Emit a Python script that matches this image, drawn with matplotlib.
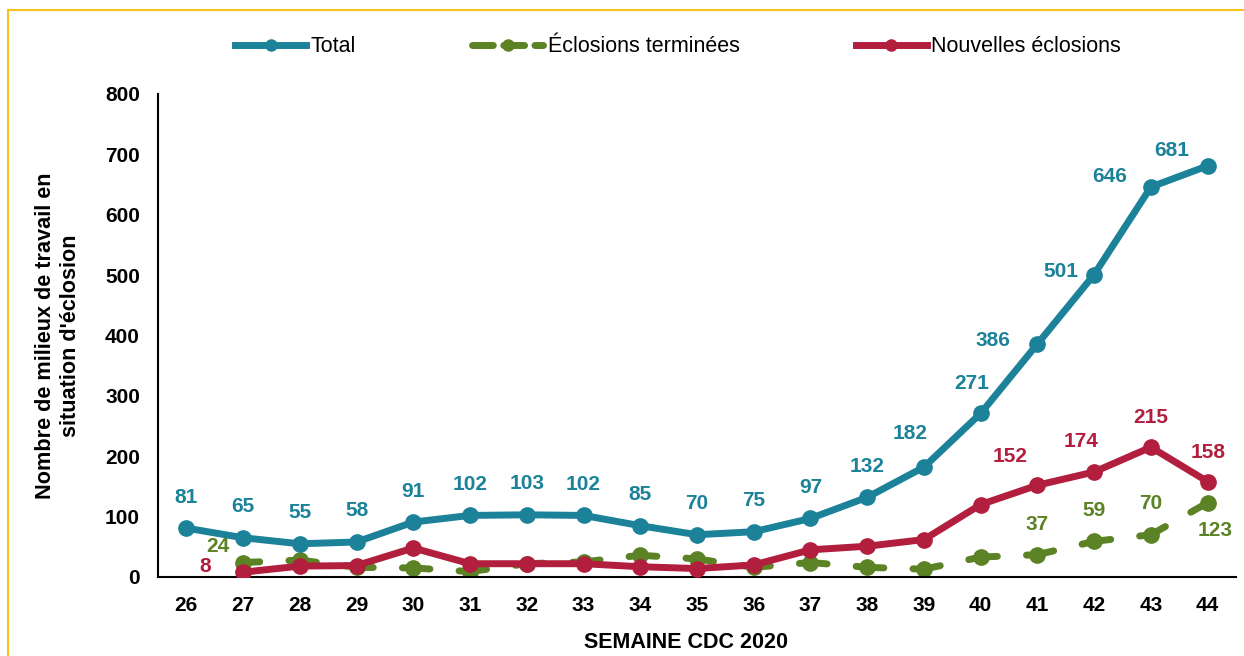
"""
Eclosions en milieux de travail par semaine CDC 2020
"""

import numpy as np
import matplotlib.pyplot as plt
from matplotlib.lines import Line2D
from matplotlib.patches import Rectangle

# data
weeks = ['26', '27', '28', '29', '30', '31', '32', '33', '34', '35',
         '36', '37', '38', '39', '40', '41', '42', '43', '44']
total = [81, 65, 55, 58, 91, 102, 103, 102, 85, 70, 75, 97, 132, 182, 271, 386, 501, 646, 681]
# terminated and new start at week 27
terminees = [24, 28, 16, 15, 9, 22, 25, 36, 30, 16, 24, 16, 13, 33, 37, 59, 70, 123]
nouvelles = [8, 18, 19, 48, 22, 22, 22, 17, 14, 20, 45, 51, 62, 120, 152, 174, 215, 158]

# which points get a label (index into weeks) and where (pixel offsets)
total_lbl_off = {13: (-14, 34), 14: (-9, 30), 15: (-44, 3), 16: (-33, 3),
                 17: (-41, 10), 18: (-36, 15)}
term_lbl = {1: (-25, 16), 15: (0, 30), 16: (0, 31), 17: (0, 31), 18: (7, -28)}
nouv_lbl = {1: (-38, 6), 15: (-27, 29), 16: (-13, 30), 17: (0, 30), 18: (0, 29)}

c_blue = '#1c8299'
c_green = '#5b8224'
c_red = '#b21e3d'

plt.rcParams['font.family'] = ['Liberation Sans', 'DejaVu Sans']

fig = plt.figure(figsize=(12.44, 6.56), dpi=100)
ax = fig.add_axes([158/1244, 1-577/656, (1236-158)/1244, (577-94)/656])

x = np.arange(len(weeks))
x2 = x[1:]

lw = 5
ms = 11

ax.plot(x, total, color=c_blue, lw=lw, marker='o', ms=ms, zorder=3,
        solid_capstyle='round', solid_joinstyle='round')
# dashed line restarts at each segment, dashes sit on the markers
for i in range(len(x2) - 1):
    ax.plot(x2[i:i+2], terminees[i:i+2], color=c_green, lw=lw,
            linestyle=(1.6, (4.0, 4.2)), dash_capstyle='round', zorder=2)
ax.plot(x2, terminees, color=c_green, lw=0, marker='o', ms=ms, zorder=2)
ax.plot(x2, nouvelles, color=c_red, lw=lw, marker='o', ms=ms, zorder=3,
        solid_capstyle='round', solid_joinstyle='round')

fs = 15
# labels of total
for i, v in enumerate(total):
    dx, dy = total_lbl_off.get(i, (0, 31))
    ax.annotate(str(v), (x[i], v), xytext=(dx, dy), textcoords='offset pixels',
                ha='center', va='center', color=c_blue, fontsize=fs, fontweight='bold')
for i, (dx, dy) in term_lbl.items():
    ax.annotate(str(terminees[i-1]), (x[i], terminees[i-1]), xytext=(dx, dy),
                textcoords='offset pixels', ha='center', va='center',
                color=c_green, fontsize=fs, fontweight='bold')
for i, (dx, dy) in nouv_lbl.items():
    ax.annotate(str(nouvelles[i-1]), (x[i], nouvelles[i-1]), xytext=(dx, dy),
                textcoords='offset pixels', ha='center', va='center',
                color=c_red, fontsize=fs, fontweight='bold')

ax.set_xlim(-0.5, len(weeks) - 0.5)
ax.set_ylim(0, 800)
ax.set_yticks(np.arange(0, 801, 100))
ax.set_xticks(x)
ax.set_xticklabels(weeks)
ax.tick_params(axis='y', length=0, pad=13, labelsize=fs)
ax.tick_params(axis='x', length=0, pad=14, labelsize=fs)
for t in ax.get_xticklabels() + ax.get_yticklabels():
    t.set_fontweight('bold')
ax.spines['top'].set_visible(False)
ax.spines['right'].set_visible(False)
ax.spines['left'].set_linewidth(1.5)
ax.spines['bottom'].set_linewidth(1.5)

fig.text(58/1244, 1-336/656, "Nombre de milieux de travail en\nsituation d'éclosion",
         rotation=90, ha='center', va='center', fontsize=15.6, fontweight='bold',
         multialignment='center', linespacing=1.2)
fig.text(686/1244, 1-643/656, 'SEMAINE CDC 2020', ha='center', va='center',
         fontsize=15.5, fontweight='bold')

# legend
h_total = Line2D([], [], color=c_blue, lw=lw, marker='o', ms=8)
h_term = Line2D([], [], color=c_green, lw=lw, marker='o', ms=8,
                dashes=(3, 1.5), dash_capstyle='round')
h_nouv = Line2D([], [], color=c_red, lw=lw, marker='o', ms=8)
fig.legend([h_total, h_term, h_nouv], ['Total', 'Éclosions terminées', 'Nouvelles éclosions'],
           loc='center', bbox_to_anchor=(678/1244, 1-47/656), ncol=3, frameon=False,
           fontsize=15.5, handlelength=3.3, handletextpad=0.2, columnspacing=5.4)

# yellow frame
fig.patches.append(Rectangle((8/1244, -0.1), 1.2, 1-10/656+0.1, transform=fig.transFigure,
                             fill=False, edgecolor='#f5c21b', lw=1.5, zorder=0))

fig.savefig('out.png', dpi=100)
